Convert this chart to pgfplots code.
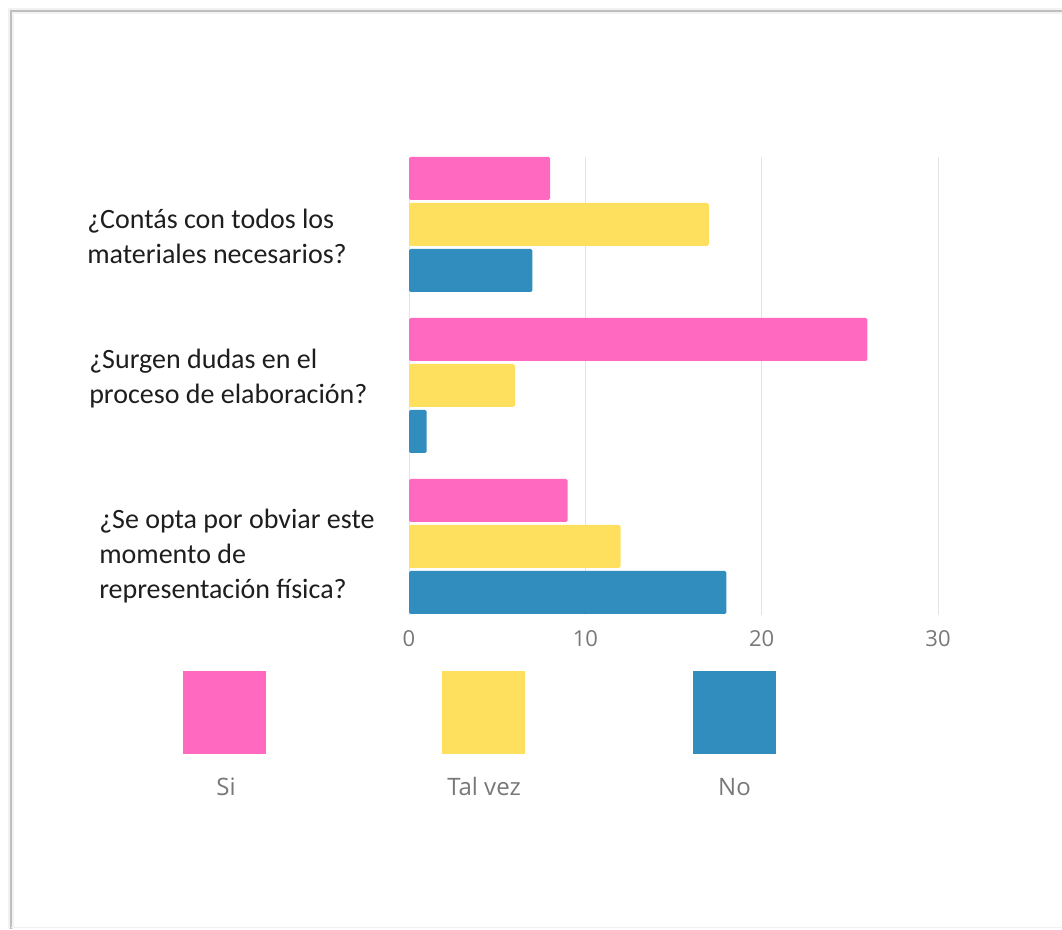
\documentclass[border=0pt]{standalone}
\usepackage{fontspec}
\setmainfont{Carlito}
\newfontfamily\osans{Open Sans}
\usepackage{pgfplots}
\pgfplotsset{compat=1.18}
\definecolor{cSi}{RGB}{255,105,192}
\definecolor{cTal}{RGB}{255,223,94}
\definecolor{cNo}{RGB}{49,141,189}
\definecolor{tickgray}{RGB}{120,120,120}
\definecolor{labtext}{RGB}{30,30,30}
\begin{document}
\begin{tikzpicture}
\begin{scope}[x=0.75pt,y=0.75pt]
\useasboundingbox (0,0) rectangle (1062,929);
\fill[white] (0,0) rectangle (1062,929);
\draw[gray!10, line width=5pt] (11,0) -- (11,918) -- (1070,918);
\draw[gray!50, line width=1.3pt] (11,0) -- (11,918) -- (1070,918);
\draw[gray!12, line width=1pt] (11,1.5) -- (1070,1.5);
\end{scope}
\begin{axis}[
  at={(306.75pt,235.5pt)}, anchor=south west,
  scale only axis, width=396.75pt, height=343.5pt,
  xmin=0, xmax=30, ymin=-0.4255, ymax=2.419,
  xbar, bar width=0.267,
  xtick={0,10,20,30}, ytick=\empty,
  xmajorgrids, grid style={color=gray!22, line width=0.75pt},
  axis line style={draw=none}, major tick length=0pt,
  xticklabel style={font=\osans\fontsize{16.5}{18}\selectfont, text=tickgray, yshift=-8pt},
  /pgf/number format/assume math mode=true,
  clip=false,
]
\addplot[fill=cSi, draw=none, bar shift=0.2857, rounded corners=1.2pt] coordinates {(8,2) (26,1) (9,0)};
\addplot[fill=cTal, draw=none, bar shift=0, rounded corners=1.2pt] coordinates {(17,2) (6,1) (12,0)};
\addplot[fill=cNo, draw=none, bar shift=-0.2857, rounded corners=1.2pt] coordinates {(7,2) (1,1) (18,0)};
\end{axis}
\begin{scope}[x=0.75pt,y=0.75pt, every node/.style={inner sep=0pt, text=labtext, font=\fontsize{21}{26}\selectfont}]
\node[anchor=base west] at (87,{929-229}) {¿Contás con todos los};
\node[anchor=base west] at (87,{929-264}) {materiales necesarios?};
\node[anchor=base west] at (89,{929-369}) {¿Surgen dudas en el};
\node[anchor=base west] at (89,{929-404}) {proceso de elaboración?};
\node[anchor=base west] at (99,{929-528}) {¿Se opta por obviar este};
\node[anchor=base west] at (99,{929-563}) {momento de};
\node[anchor=base west] at (99,{929-598}) {representación física?};
\fill[cSi] (183,175) rectangle (266,258);
\fill[cTal] (442,175) rectangle (525,258);
\fill[cNo] (693,175) rectangle (776,258);
\node[anchor=base, text=tickgray, font=\osans\fontsize{18}{20}\selectfont] at (226,133.5) {Si};
\node[anchor=base, text=tickgray, font=\osans\fontsize{18}{20}\selectfont] at (484,133.5) {Tal vez};
\node[anchor=base, text=tickgray, font=\osans\fontsize{18}{20}\selectfont] at (734.5,133.5) {No};
\end{scope}
\end{tikzpicture}
\end{document}
